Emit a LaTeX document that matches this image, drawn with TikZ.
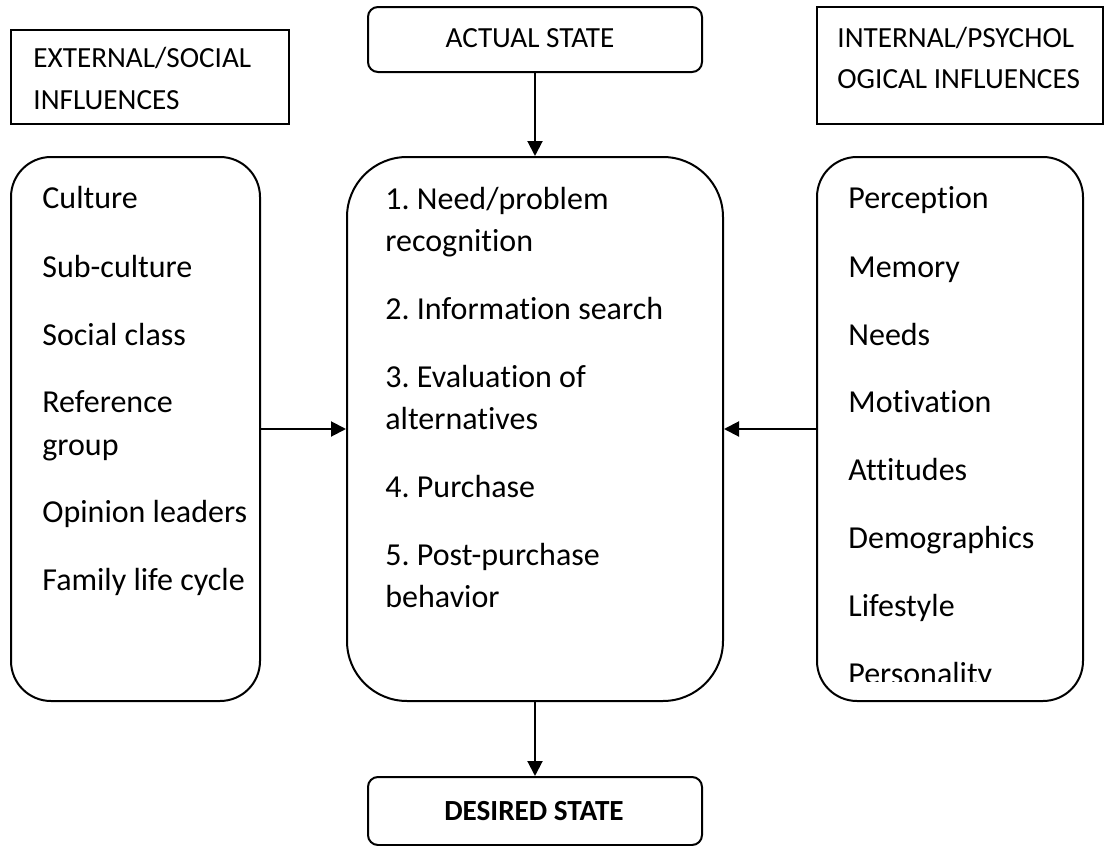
\documentclass[tikz,border=0pt]{standalone}
\usepackage{fontspec}
\setmainfont{Carlito}[Ligatures=NoCommon]
\frenchspacing
\usetikzlibrary{arrows.meta,fit}

\tikzset{
  plainbox/.style={draw, line width=1pt, inner sep=0pt},
  statebox/.style={plainbox, rounded corners=5pt},
  listbox/.style={plainbox, rounded corners=20pt},
  item/.style={anchor=base west, inner sep=0pt, font=\fontsize{16}{21}\selectfont},
  head/.style={anchor=base west, inner sep=0pt, font=\fontsize{14.6}{18}\selectfont},
  flow/.style={line width=1pt, -{Triangle[length=7.5pt,width=7.5pt]}}
}

\begin{document}
\begin{tikzpicture}[x=0.5pt,y=-0.5pt]
\useasboundingbox (0,0) rectangle (1105,846);

% header boxes
\node[plainbox, fit={(11,30) (289,124)}] (ext) {};
\node[head] (ext1) at (33,68) {EXTERNAL/SOCIAL};
\node[head] (ext2) at (33,109) {INFLUENCES};

\node[statebox, fit={(368,7) (702,72)}] (act) {};
\node[head, anchor=base] (acttxt) at (530,47) {ACTUAL STATE};

\node[plainbox, fit={(817,7) (1103,124)}] (int) {};
\node[head] (int1) at (837,47) {INTERNAL/PSYCHOL};
\node[head] (int2) at (837,88) {OGICAL INFLUENCES};

% the three lists
\node[listbox, fit={(11,157) (260,701)}] (social) {};
\node[listbox, rounded corners=30pt, fit={(347,157) (723,701)}] (proc) {};
\node[listbox, fit={(817,157) (1083,701)}] (psych) {};

%external influences
\foreach \txt/\y [count=\i] in {Culture/208, Sub-culture/277, Social class/345,
    Reference/412, group/455, Opinion leaders/522, Family life cycle/590}
  \node[item] (s\i) at (42,\y) {\txt};

%decision steps
\foreach \txt/\y [count=\i] in {{1. Need/problem}/209, recognition/251,
    2. Information search/319, 3. Evaluation of/387, alternatives/429,
    4. Purchase/497, 5. Post-purchase/565, behavior/607}
  \node[item] (p\i) at (385,\y) {\txt};

%internal influences
\begin{scope}
\clip (817,157) rectangle (1083,681);
\foreach \txt/\y [count=\i] in {Perception/208, Memory/277, Needs/345,
    Motivation/412, Attitudes/480, Demographics/548, Lifestyle/616, Personality/684}
  \node[item] (q\i) at (848,\y) {\txt};
\end{scope}

\node[statebox, fit={(368,777) (702,845)}] (des) {};
\node[head, anchor=base, font=\fontsize{14.6}{18}\selectfont\bfseries] (destxt) at (534,820) {DESIRED STATE};

% connectors
\draw[flow] (act) -- (proc);
\draw[flow] (social) -- (proc);
\draw[flow] (psych) -- (proc);
\draw[flow] (proc) -- (des);
\end{tikzpicture}
\end{document}
